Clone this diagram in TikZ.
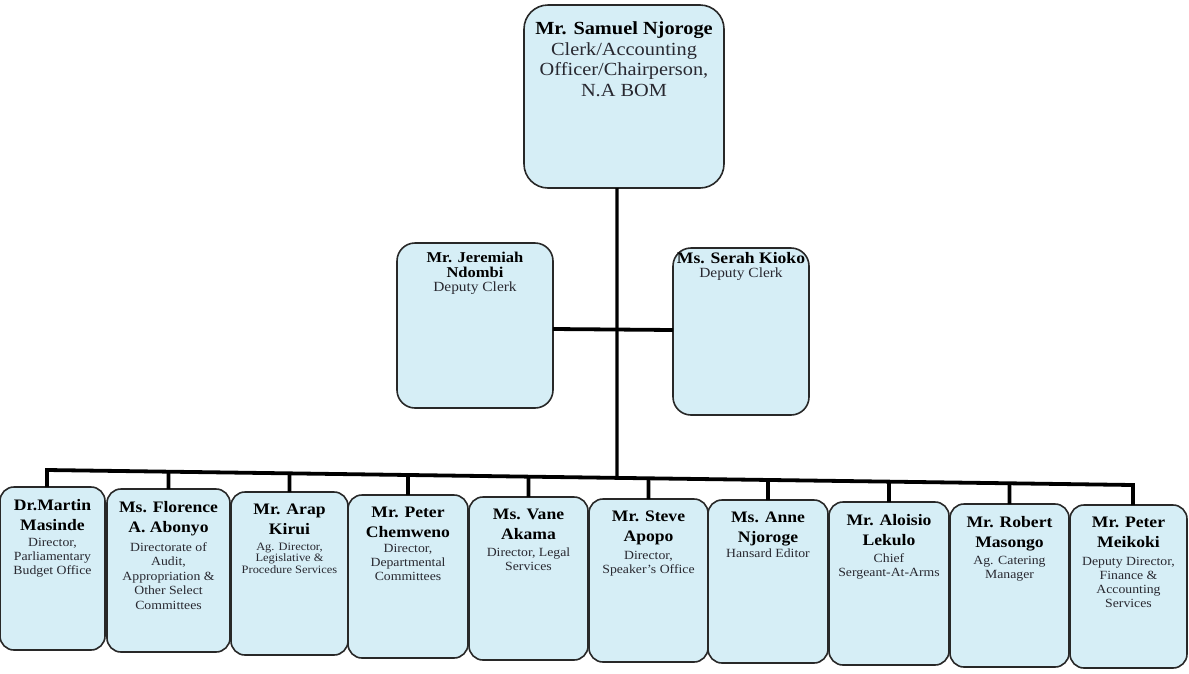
\documentclass[tikz,border=0pt]{standalone}
\usepackage{fontspec}
\setmainfont[FakeStretch=1.1]{Liberation Serif}
\definecolor{boxfill}{RGB}{214,238,246}
\definecolor{boxline}{RGB}{40,40,40}
\definecolor{subtxt}{RGB}{40,40,48}
\newcommand\nmT{\fontsize{18.5}{20.5}\selectfont\bfseries}
\newcommand\rgT{\fontsize{18.5}{20.5}\selectfont\color{subtxt}}
\newcommand\nmM{\fontsize{15}{15}\selectfont\bfseries}
\newcommand\rgM{\fontsize{14}{14}\selectfont\color{subtxt}}
\newcommand\nmB{\fontsize{16}{20}\selectfont\bfseries}
\newcommand\smB{\fontsize{12.5}{14}\selectfont\color{subtxt}}
\newcommand\smBw{\fontsize{12.5}{14.5}\selectfont\color{subtxt}}
\newcommand\smBs{\fontsize{11.3}{11.5}\selectfont\color{subtxt}}
\newcommand\boxtxt[3]{\parbox[c][#2pt][t]{#1pt}{\centering #3\par}}
\tikzset{
  orgbox/.style={draw=boxline, fill=boxfill, line width=1.6pt, anchor=north west, inner xsep=0pt, outer sep=0pt},
  topbox/.style={orgbox, rounded corners=24pt, inner ysep=17pt},
  midbox/.style={orgbox, rounded corners=18pt},
  botbox/.style={orgbox, rounded corners=14pt, inner ysep=12pt},
  bus/.style={draw=black, line width=3.8pt, line join=miter},
}
\begin{document}
\begin{tikzpicture}[x=1pt,y=-1pt]
\useasboundingbox (0,0) rectangle (1189,673);
% top
\node[topbox] (top) at (524,5) {\boxtxt{200}{149}{{\nmT Mr. Samuel Njoroge\par}{\rgT Clerk/Accounting\\Officer/Chairperson,\\N.A BOM\par}}};
% deputies
\node[midbox, inner ysep=9pt] (dL) at (397,243) {\boxtxt{156}{147}{{\nmM Mr. Jeremiah\\Ndombi\par}{\rgM Deputy Clerk\par}}};
\node[midbox, inner ysep=4pt] (dR) at (673,248) {\boxtxt{136}{159}{{\nmM\fontsize{16}{15}\selectfont Ms. Serah Kioko\par}{\rgM Deputy Clerk\par}}};
% bottom row
\node[botbox] (b1) at (0,487) {\boxtxt{105}{139}{{\nmB Dr.Martin\\Masinde\par}\vspace{2.5pt}{\smB Director,\\Parliamentary\\Budget Office\par}}};
\node[botbox] (b2) at (107,489) {\boxtxt{123}{139}{{\nmB Ms. Florence\\A. Abonyo\par}\vspace{4.5pt}{\smBw Directorate of\\Audit,\\Appropriation \&\\Other Select\\Committees\par}}};
\node[botbox] (b3) at (231,492) {\boxtxt{117}{139}{{\nmB Mr. Arap\\Kirui\par}\vspace{4pt}{\smBs Ag. Director,\\Legislative \&\\Procedure Services\par}}};
\node[botbox] (b4) at (348,495) {\boxtxt{120}{139}{{\nmB Mr. Peter\\Chemweno\par}\vspace{1pt}{\smB Director,\\Departmental\\Committees\par}}};
\node[botbox] (b5) at (469,497) {\boxtxt{119}{139}{{\nmB Ms. Vane\\Akama\par}\vspace{3.5pt}{\smB Director, Legal\\Services\par}}};
\node[botbox] (b6) at (589,499) {\boxtxt{119}{139}{{\nmB Mr. Steve\\Apopo\par}\vspace{3.5pt}{\smB Director,\\Speaker's Office\par}}};
\node[botbox] (b7) at (708,500) {\boxtxt{120}{139}{{\nmB Ms. Anne\\Njoroge\par}\vspace{1pt}{\smB Hansard Editor\par}}};
\node[botbox] (b8) at (829,502) {\boxtxt{120}{139}{{\nmB Mr. Aloisio\\Lekulo\par}\vspace{3.5pt}{\smB Chief\\Sergeant-At-Arms\par}}};
\node[botbox] (b9) at (950,504) {\boxtxt{119}{139}{{\nmB Mr. Robert\\Masongo\par}\vspace{3.5pt}{\smB Ag. Catering\\Manager\par}}};
\node[botbox] (b10) at (1070,505) {\boxtxt{117}{139}{{\nmB Mr. Peter\\Meikoki\par}\vspace{4pt}{\smB Deputy Director,\\Finance \&\\Accounting\\Services\par}}};
% connectors
\coordinate (s1) at ([xshift=-5.5pt]b1.north);
\coordinate (s10) at ([xshift=4.5pt]b10.north);
\coordinate (t1) at ([yshift=17pt]s1);
\coordinate (t10) at ([yshift=20pt]s10);
\draw[bus] (s1) -- (t1) -- (t10) -- (s10);
\foreach \i in {2,...,9}{
  \draw[bus] (b\i.north) -- (intersection of t1--t10 and b\i.north--b\i.south);
}
\coordinate (vtop) at ([xshift=-7pt]top.south);
\coordinate (vbot) at ([yshift=-400pt]vtop);
\coordinate (hub) at (intersection of t1--t10 and vtop--vbot);
\draw[bus, line width=3.4pt] (vtop) -- (hub);
\draw[bus] ([yshift=-3.5pt]dL.east) -- ([yshift=1.5pt]dR.west);
\end{tikzpicture}
\end{document}
